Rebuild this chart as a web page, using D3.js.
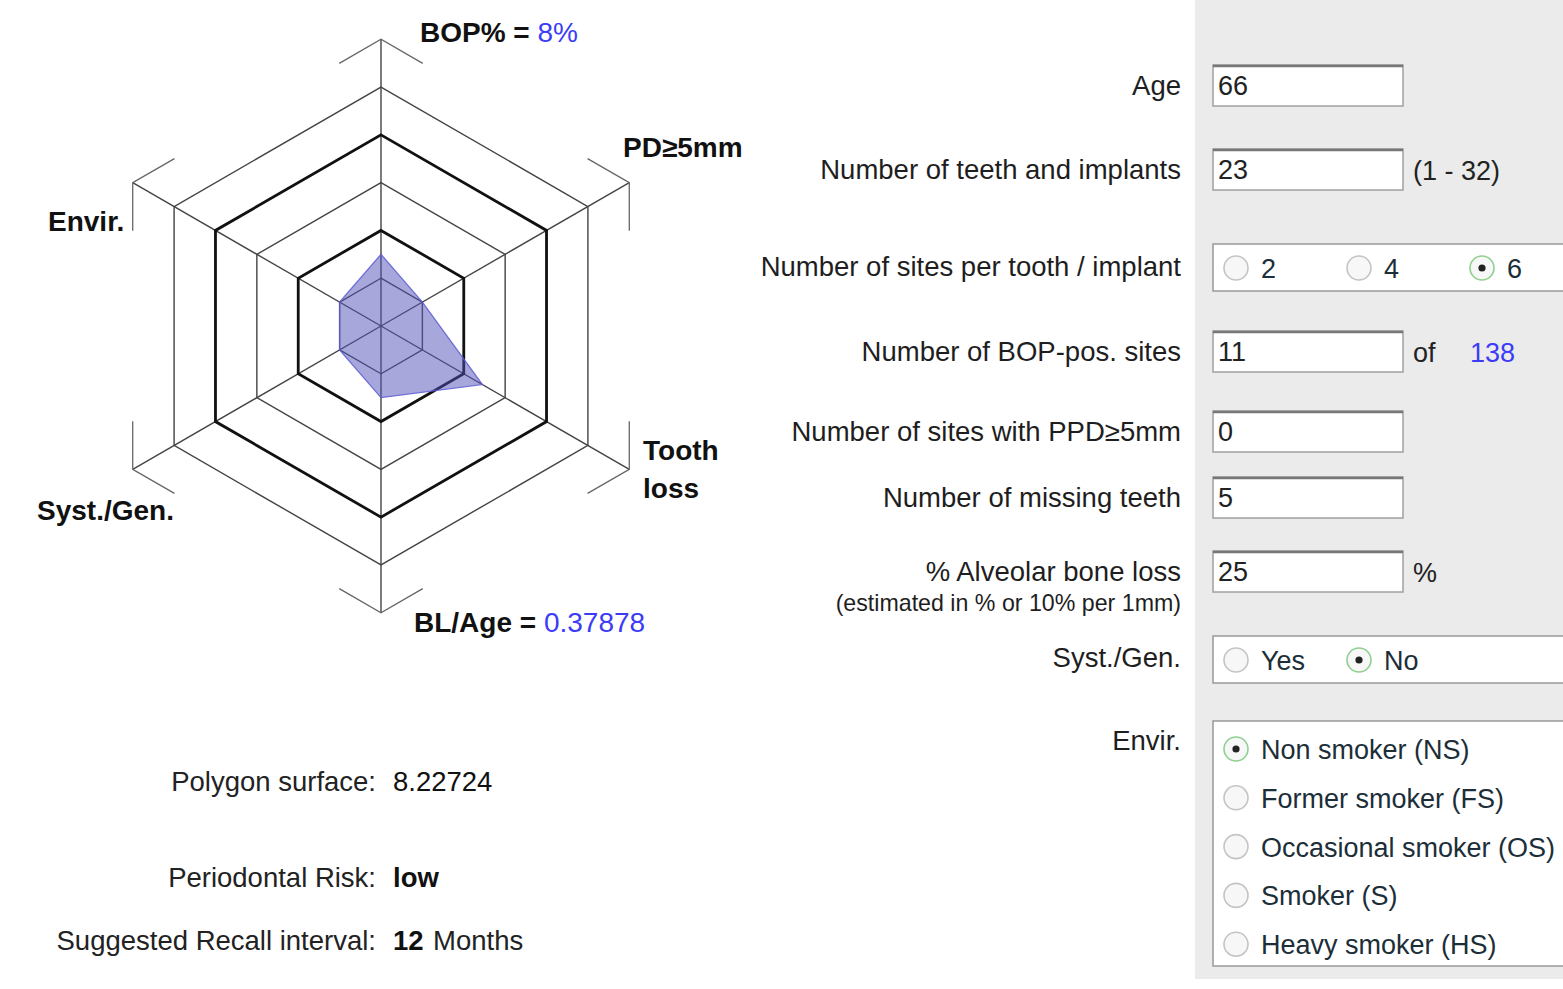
<!doctype html>
<html>
  <head>
    <style>
      body { margin: 0; background: #fff; }
      text { font-family: "Liberation Sans", Arial, sans-serif; }
    </style>
  </head>
  <body>
    <svg id="content"></svg>

    <script src="https://cdnjs.cloudflare.com/ajax/libs/d3/7.8.5/d3.min.js"></script>
    <script>
      // radar axes, clockwise from the top
      const axisNames = ['BOP%', 'PD≥5mm', 'Tooth loss', 'BL/Age', 'Syst./Gen.', 'Envir.']
      const axisValues = [1.5, 1, 2.45, 1.5, 1, 1]
      const ringLevels = [1, 2, 3, 4, 5]
      const thickRings = [2, 4]
      const bopPercent = '8%'
      const blAge = '0.37878'

      // results under the chart
      const resultLabels = ['Polygon surface:', 'Periodontal Risk:', 'Suggested Recall interval:']
      const resultValues = ['8.22724', 'low', '12']

      // form on the right
      const fieldLabels = ['Age', 'Number of teeth and implants', 'Number of BOP-pos. sites',
        'Number of sites with PPD≥5mm', 'Number of missing teeth', '% Alveolar bone loss']
      const fieldValues = ['66', '23', '11', '0', '5', '25']
      const fieldSuffix = ['', '(1 - 32)', 'of', '', '', '%']
      const siteOptions = ['2', '4', '6']
      const siteChosen = '6'
      const totalSites = '138'
      const systOptions = ['Yes', 'No']
      const systChosen = 'No'
      const envirOptions = ['Non smoker (NS)', 'Former smoker (FS)', 'Occasional smoker (OS)', 'Smoker (S)', 'Heavy smoker (HS)']
      const envirChosen = 'Non smoker (NS)'

      const W = 1563, H = 989
      const blue = '#3c3cf6'
      const svg = d3.select('#content').attr('width', W).attr('height', H)

      // ---------- radar ----------
      const cx = 381, cy = 326
      const r = d3.scaleLinear().domain([0, 6]).range([0, 286.7])
      const angle = d3.scaleLinear().domain([0, axisNames.length]).range([0, 2 * Math.PI])
      const pt = (i, v) => [r(v) * Math.sin(angle(i)), -r(v) * Math.cos(angle(i))]

      const radar = svg.append('g').attr('transform', `translate(${cx},${cy})`)

      const ringLine = d3.lineRadial()
        .angle((d, i) => angle(i))
        .radius(d => r(d))
        .curve(d3.curveLinearClosed)

      radar.selectAll('.axis')
        .data(axisNames)
        .enter().append('line')
        .attr('x1', 0).attr('y1', 0)
        .attr('x2', (d, i) => pt(i, 6)[0])
        .attr('y2', (d, i) => pt(i, 6)[1])
        .style('stroke', '#444')
        .style('stroke-width', 1.4)

      radar.selectAll('.ring')
        .data(ringLevels)
        .enter().append('path')
        .attr('d', lv => ringLine(axisNames.map(() => lv)))
        .style('fill', 'none')
        .style('stroke', lv => thickRings.includes(lv) ? '#111' : '#444')
        .style('stroke-width', lv => thickRings.includes(lv) ? 2.8 : 1.4)

      // little chevrons at the end of each axis
      const arm = 0.168
      axisNames.forEach((name, i) => {
        const p = pt(i, 6)
        const n = axisNames.length
        const a = pt((i + n - 1) % n, 6), b = pt((i + 1) % n, 6)
        const path = d3.path()
        path.moveTo(p[0] + (a[0] - p[0]) * arm, p[1] + (a[1] - p[1]) * arm)
        path.lineTo(p[0], p[1])
        path.lineTo(p[0] + (b[0] - p[0]) * arm, p[1] + (b[1] - p[1]) * arm)
        radar.append('path')
          .attr('d', path.toString())
          .style('fill', 'none')
          .style('stroke', '#666')
          .style('stroke-width', 1.3)
      })

      radar.append('path')
        .attr('d', ringLine(axisValues))
        .style('fill', 'rgba(80, 80, 185, 0.5)')
        .style('stroke', 'rgba(95, 95, 215, 0.85)')
        .style('stroke-width', 1.3)

      // axis labels
      const boldLabel = (x, y) => svg.append('text')
        .attr('x', x).attr('y', y)
        .style('font-size', '28px').style('font-weight', 'bold').style('fill', '#111')

      const bop = boldLabel(420, 42)
      bop.append('tspan').text(axisNames[0] + ' = ')
      bop.append('tspan').style('font-weight', 'normal').style('fill', blue).text(bopPercent)

      boldLabel(623, 157).text(axisNames[1])
      const tooth = axisNames[2].split(' ')
      boldLabel(643, 460).text(tooth[0])
      boldLabel(643, 498).text(tooth[1])

      const bl = boldLabel(414, 632)
      bl.append('tspan').text(axisNames[3] + ' = ')
      bl.append('tspan').style('font-weight', 'normal').style('fill', blue).text(blAge)

      boldLabel(37, 520).text(axisNames[4])
      boldLabel(48, 231).text(axisNames[5])

      // ---------- results ----------
      const resultY = [791, 887, 950]
      resultLabels.forEach((lab, i) => {
        svg.append('text')
          .attr('x', 376).attr('y', resultY[i])
          .attr('text-anchor', 'end')
          .style('font-size', '27.5px').style('fill', '#222')
          .text(lab)
        svg.append('text')
          .attr('x', 393).attr('y', resultY[i])
          .style('font-size', '27.5px').style('fill', '#111')
          .style('font-weight', i === 0 ? 'normal' : 'bold')
          .text(resultValues[i])
      })
      svg.append('text')
        .attr('x', 433).attr('y', resultY[2])
        .style('font-size', '27.5px').style('fill', '#222')
        .text('Months')

      // ---------- form ----------
      svg.append('rect')
        .attr('x', 1195).attr('y', 0)
        .attr('width', W - 1195).attr('height', 979)
        .style('fill', '#ebebeb')

      const labelX = 1181
      const rightLabel = (y, t, size) => svg.append('text')
        .attr('x', labelX).attr('y', y)
        .attr('text-anchor', 'end')
        .style('font-size', size || '27.5px').style('fill', '#1e1e1e')
        .text(t)

      const boxX = 1213, boxW = 190, boxH = 41
      const fieldTop = [65, 149, 331, 411, 477, 551]
      fieldLabels.forEach((lab, i) => {
        const y0 = fieldTop[i]
        rightLabel(y0 + 30, lab)
        svg.append('rect')
          .attr('x', boxX).attr('y', y0)
          .attr('width', boxW).attr('height', boxH)
          .style('fill', '#fff').style('stroke', '#a0a0a0').style('stroke-width', 1.5)
        svg.append('line')
          .attr('x1', boxX).attr('x2', boxX + boxW)
          .attr('y1', y0 + 1).attr('y2', y0 + 1)
          .style('stroke', '#777').style('stroke-width', 2.5)
        svg.append('text')
          .attr('x', boxX + 5).attr('y', y0 + 30)
          .style('font-size', '27px').style('fill', '#222')
          .text(fieldValues[i])
        if (fieldSuffix[i]) {
          svg.append('text')
            .attr('x', 1413).attr('y', y0 + 31)
            .style('font-size', '27px').style('fill', '#222')
            .text(fieldSuffix[i])
        }
      })
      svg.append('text')
        .attr('x', 1470).attr('y', fieldTop[2] + 31)
        .style('font-size', '27px').style('fill', blue)
        .text(totalSites)
      rightLabel(611, '(estimated in % or 10% per 1mm)', '23.2px')

      // radio groups
      const groupBox = (y0, h) => svg.append('rect')
        .attr('x', boxX).attr('y', y0)
        .attr('width', W - boxX + 10).attr('height', h)
        .style('fill', '#fff').style('stroke', '#999').style('stroke-width', 1.5)

      const radio = (x, y, label, on) => {
        svg.append('circle')
          .attr('cx', x).attr('cy', y).attr('r', 12)
          .style('fill', '#f7f7f7')
          .style('stroke', on ? '#8fcf8f' : '#c4c4c4').style('stroke-width', 1.6)
        if (on) {
          svg.append('circle').attr('cx', x).attr('cy', y).attr('r', 3.6).style('fill', '#222')
        }
        svg.append('text')
          .attr('x', x + 25).attr('y', y + 10)
          .style('font-size', '27px').style('fill', '#1c2e38')
          .text(label)
      }

      rightLabel(276, 'Number of sites per tooth / implant')
      groupBox(244, 47)
      siteOptions.forEach((o, i) => radio(1236 + i * 123, 268, o, o === siteChosen))

      rightLabel(667, 'Syst./Gen.')
      groupBox(636, 47)
      systOptions.forEach((o, i) => radio(1236 + i * 123, 660, o, o === systChosen))

      rightLabel(750, 'Envir.')
      groupBox(721, 245)
      envirOptions.forEach((o, i) => radio(1236, 749 + i * 48.8, o, o === envirChosen))
    </script>
  </body>
</html>
